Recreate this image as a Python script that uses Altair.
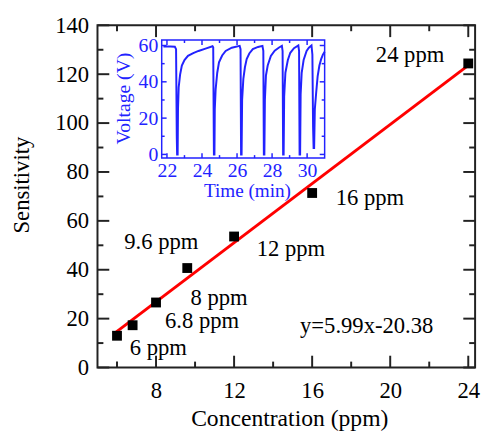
import altair as alt
import pandas as pd

# ---------------- data ----------------
conc = [6, 6.8, 8, 9.6, 12, 16, 24]
sens = [13.0, 17.3, 26.6, 40.7, 53.6, 71.4, 124.4]
labels = ["6 ppm", "6.8 ppm", "8 ppm", "9.6 ppm", "12 ppm", "16 ppm", "24 ppm"]
fit_x = [5.95, 24.0]
fit_y = [14.5, 123.6]
equation = "y=5.99x-20.38"

x_major = [8, 12, 16, 20, 24]
x_minor = [6, 10, 14, 18, 22]
y_major = [0, 20, 40, 60, 80, 100, 120, 140]
y_minor = [10, 30, 50, 70, 90, 110, 130]

time_min = [21.8, 22.2, 22.45, 22.52, 22.56, 22.58, 22.61, 22.63, 22.67, 22.75,
            22.85, 23.0, 23.2, 23.5, 23.8, 24.2, 24.6, 24.64, 24.68, 24.71,
            24.73, 24.78, 24.87, 24.97, 25.15, 25.35, 25.7, 26.15, 26.2, 26.23,
            26.26, 26.29, 26.36, 26.45, 26.55, 26.7, 26.9, 27.2, 27.45, 27.5,
            27.53, 27.56, 27.59, 27.65, 27.75, 27.93, 28.15, 28.4, 28.56, 28.6,
            28.63, 28.66, 28.69, 28.76, 28.9, 29.04, 29.25, 29.5, 29.54, 29.57,
            29.6, 29.63, 29.69, 29.8, 29.97, 30.1, 30.25, 30.3, 30.34, 30.37,
            30.4, 30.44, 30.52, 30.6, 30.7, 30.8, 30.9, 31.0]
voltage = [59.5, 59.5, 59.3, 58.0, 10.0, 0.0, 0.0, 25.0, 37.0, 44.0,
           49.0, 52.0, 54.3, 55.8, 57.0, 58.3, 59.6, 59.0, 0.0, 0.0,
           25.0, 36.0, 45.0, 50.7, 54.5, 57.0, 58.8, 59.8, 58.0, 0.0,
           0.0, 30.0, 41.6, 48.0, 52.5, 55.6, 58.0, 59.2, 59.8, 57.0,
           0.0, 0.0, 30.0, 43.5, 49.0, 54.3, 57.2, 58.9, 59.8, 57.0,
           0.0, 0.0, 32.0, 45.0, 52.0, 56.0, 58.5, 60.0, 57.0, 0.0,
           0.0, 33.0, 45.0, 52.0, 57.0, 58.8, 60.0, 55.0, 15.0, 3.5,
           3.5, 25.0, 34.4, 43.0, 49.0, 52.5, 55.0, 56.5]
t_major = [22, 24, 26, 28, 30]
t_minor = [23, 25, 27, 29]
v_major = [0, 20, 40, 60]
v_minor = [10, 30, 50]

# ---------------- styles ----------------
SERIF = "Liberation Serif"
BLUE = "#2222ff"
W, H = 384, 348
X_DOM = [5, 24.35]
Y_DOM = [0, 140]
T_DOM = [21.7, 31.0]
V_DOM = [-2, 63]


def XS():
    return alt.Scale(domain=X_DOM, nice=False, zero=False)


def YS():
    return alt.Scale(domain=Y_DOM, nice=False, zero=False)


def TS():
    return alt.Scale(domain=T_DOM, range=[65.3, 231], nice=False, zero=False)


def VS():
    return alt.Scale(domain=V_DOM, range=[135, 15], nice=False, zero=False)


def tick_layer(values, side, length, xs, ys, xdom, ydom, color, width):
    df = pd.DataFrame({"v": values})
    base = alt.Chart(df)
    if side in ("bottom", "top"):
        yv = ydom[0] if side == "bottom" else ydom[1]
        off = -length if side == "bottom" else length
        return base.mark_rule(color=color, strokeWidth=width, y2Offset=off).encode(
            x=alt.X("v:Q", scale=xs(), axis=None),
            y=alt.YDatum(yv, scale=ys(), axis=None),
            y2=alt.datum(yv),
        )
    xv = xdom[0] if side == "left" else xdom[1]
    off = length if side == "left" else -length
    return base.mark_rule(color=color, strokeWidth=width, x2Offset=off).encode(
        y=alt.Y("v:Q", scale=ys(), axis=None),
        x=alt.XDatum(xv, scale=xs(), axis=None),
        x2=alt.datum(xv),
    )


# ---------------- main chart ----------------
pts = pd.DataFrame({"x": conc, "y": sens, "label": labels})
fit = pd.DataFrame({"x": fit_x, "y": fit_y})

x_axis = alt.Axis(values=x_major, ticks=False, tickSize=0, domain=False, grid=False,
                  labelFont=SERIF, labelFontSize=23, labelPadding=13, labelColor="black",
                  labelFlush=False, title="Concentration (ppm)", titleFont=SERIF,
                  titleFontSize=24, titleFontWeight="normal", titleColor="black",
                  titleX=195, titleY=59, titleBaseline="alphabetic", titleAlign="center")
y_axis = alt.Axis(values=y_major, ticks=False, tickSize=0, domain=False, grid=False,
                  labelFont=SERIF, labelFontSize=23, labelPadding=9, labelColor="black",
                  labelFlush=False, title="Sensitivity", titleFont=SERIF,
                  titleFontSize=23, titleFontWeight="normal", titleColor="black",
                  titleAngle=270, titleX=-77, titleY=162, titleBaseline="middle",
                  titleAlign="center")

fit_line = alt.Chart(fit).mark_line(color="#ff0000", strokeWidth=3).encode(
    x=alt.X("x:Q", scale=XS(), axis=None),
    y=alt.Y("y:Q", scale=YS(), axis=None),
)
points = alt.Chart(pts).mark_square(size=100, color="black", opacity=1).encode(
    x=alt.X("x:Q", scale=XS(), axis=x_axis),
    y=alt.Y("y:Q", scale=YS(), axis=y_axis),
)

label_offsets = {
    "6 ppm": (13, 20),
    "6.8 ppm": (33, 3),
    "8 ppm": (35, 2.5),
    "9.6 ppm": (-64, -19),
    "12 ppm": (23, 20),
    "16 ppm": (24, 12.5),
    "24 ppm": (-94, -1),
}
text_layers = []
for lab in labels:
    dx, dy = label_offsets[lab]
    text_layers.append(
        alt.Chart(pts).transform_filter(alt.datum.label == lab)
        .mark_text(font=SERIF, fontSize=23, align="left", baseline="alphabetic",
                   dx=dx, dy=dy, color="black")
        .encode(x=alt.X("x:Q", scale=XS(), axis=None),
                y=alt.Y("y:Q", scale=YS(), axis=None),
                text="label:N")
    )

eq_text = alt.Chart(pd.DataFrame({"t": [equation]})).mark_text(
    font=SERIF, fontSize=23, align="left", baseline="alphabetic", color="black"
).encode(x=alt.XDatum(15.38, scale=XS(), axis=None),
         y=alt.YDatum(14.1, scale=YS(), axis=None),
         text="t:N")

main_ticks = []
for side in ("bottom", "top"):
    main_ticks.append(tick_layer(x_major, side, 12, XS, YS, X_DOM, Y_DOM, "#222", 2))
    main_ticks.append(tick_layer(x_minor, side, 6, XS, YS, X_DOM, Y_DOM, "#222", 2))
for side in ("left", "right"):
    main_ticks.append(tick_layer(y_major, side, 12, XS, YS, X_DOM, Y_DOM, "#222", 2))
    main_ticks.append(tick_layer(y_minor, side, 6, XS, YS, X_DOM, Y_DOM, "#222", 2))

# ---------------- inset ----------------
vdf = pd.DataFrame({"t": time_min, "v": voltage, "i": list(range(len(time_min)))})

t_axis = alt.Axis(orient="bottom", offset=-213, values=t_major, ticks=False, tickSize=0,
                  domain=False, grid=False, labelFont=SERIF, labelFontSize=20,
                  labelColor=BLUE, labelPadding=3, labelFlush=False, title="Time (min)",
                  titleFont=SERIF, titleFontSize=19.5, titleFontWeight="normal",
                  titleColor=BLUE, titleX=152, titleY=39, titleBaseline="alphabetic",
                  titleAlign="center", zindex=1)
v_axis = alt.Axis(orient="left", offset=-65.3, values=v_major, ticks=False, tickSize=0,
                  domain=False, grid=False, labelFont=SERIF, labelFontSize=20,
                  labelColor=BLUE, labelPadding=4, labelFlush=False, title="Voltage (V)",
                  titleFont=SERIF, titleFontSize=20, titleFontWeight="normal",
                  titleColor=BLUE, titleAngle=270, titleX=-39, titleY=74,
                  titleBaseline="middle", titleAlign="center", zindex=1)

frame = alt.Chart(pd.DataFrame({"a": [0]})).mark_rect(
    fill="white", stroke=BLUE, strokeWidth=1.5
).encode(
    x=alt.XDatum(T_DOM[0], scale=TS(), axis=None), x2=alt.datum(T_DOM[1]),
    y=alt.YDatum(V_DOM[0], scale=VS(), axis=None), y2=alt.datum(V_DOM[1]),
)
vline = alt.Chart(vdf).mark_line(color=BLUE, strokeWidth=2).encode(
    x=alt.X("t:Q", scale=TS(), axis=t_axis),
    y=alt.Y("v:Q", scale=VS(), axis=v_axis),
    order="i:Q",
)
inset_ticks = []
for side in ("bottom", "top"):
    inset_ticks.append(tick_layer(t_major, side, 5, TS, VS, T_DOM, V_DOM, BLUE, 1.5))
    inset_ticks.append(tick_layer(t_minor, side, 3, TS, VS, T_DOM, V_DOM, BLUE, 1.5))
for side in ("left", "right"):
    inset_ticks.append(tick_layer(v_major, side, 5, TS, VS, T_DOM, V_DOM, BLUE, 1.5))
    inset_ticks.append(tick_layer(v_minor, side, 3, TS, VS, T_DOM, V_DOM, BLUE, 1.5))

chart = alt.layer(
    fit_line, points, *text_layers, eq_text, *main_ticks,
    frame, vline, *inset_ticks,
).resolve_scale(
    x="independent", y="independent"
).properties(
    width=W, height=H,
    background="white",
    autosize=alt.AutoSizeParams(type="none"),
    padding={"left": 91, "top": 14, "right": 6, "bottom": 64},
).configure_view(stroke="#222", strokeWidth=2)

chart.save("out.html", embed_options={"renderer": "svg", "actions": False})
